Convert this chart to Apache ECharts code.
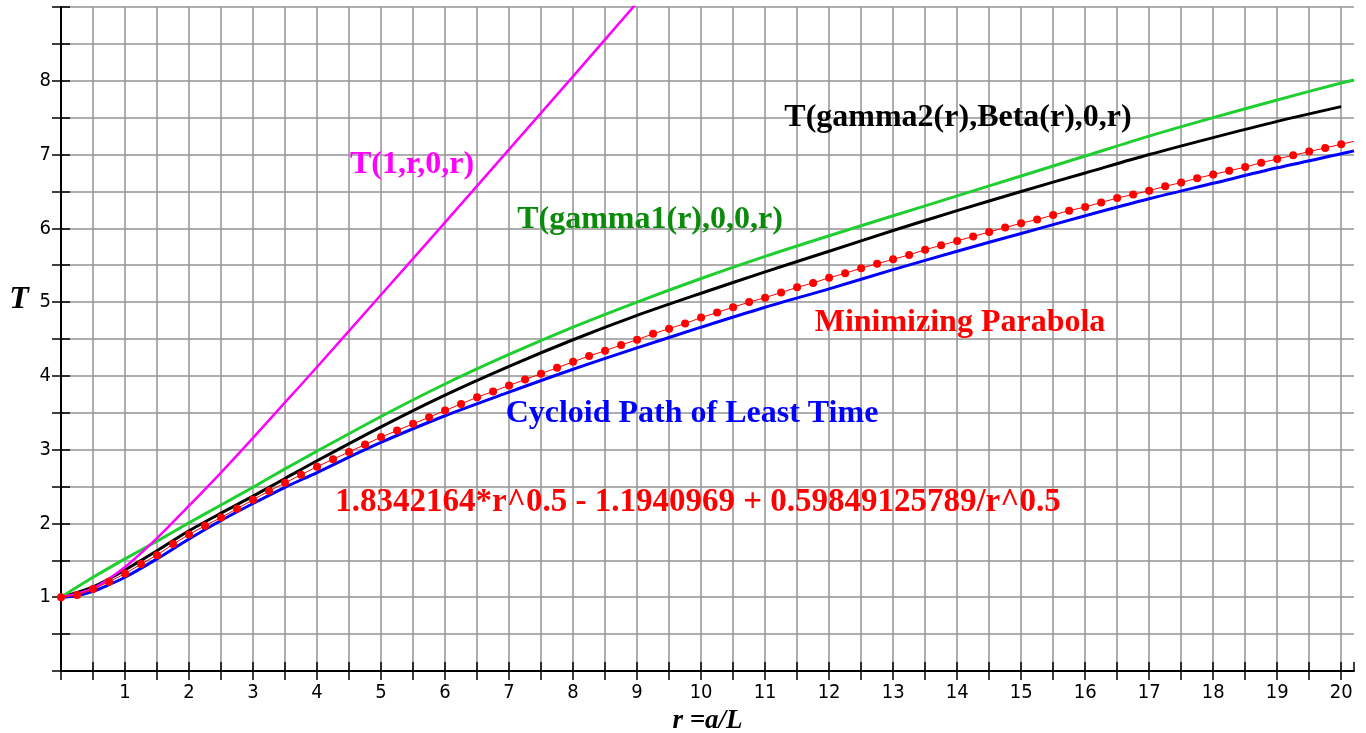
<!DOCTYPE html>
<html>
<head>
<meta charset="utf-8">
<script src="https://cdn.jsdelivr.net/npm/echarts@6/dist/echarts.min.js"></script>
<style>
  html, body { margin: 0; padding: 0; background: #fff; }
  #chart { width: 1366px; height: 733px; }
</style>
</head>
<body>
<div id="chart"></div>
<script>
// tick labels shown on the axes
const xTickLabels = [1, 2, 3, 4, 5, 6, 7, 8, 9, 10, 11, 12, 13, 14, 15, 16, 17, 18, 19, 20]
const yTickLabels = [1, 2, 3, 4, 5, 6, 7, 8]

// T(1,r,0,r)  (magenta)
const straightR = [0, 0.5, 1, 1.5, 2, 2.5, 3, 3.5, 4, 5, 6, 7, 8, 9]
const straightT = [1.00, 1.12, 1.41, 1.80, 2.24, 2.69, 3.16, 3.64, 4.12, 5.10, 6.08, 7.07, 8.06, 9.06]

// T(gamma1(r),0,0,r)  (green)
const gamma1R = [0, 0.5, 1, 1.5, 2, 2.5, 3, 3.5, 4, 5, 6, 7, 8, 9, 10, 11, 12, 13, 14, 15, 16, 17, 18, 19, 20, 20.2]
const gamma1T = [1.00, 1.27, 1.52, 1.76, 2.01, 2.25, 2.49, 2.74, 2.98, 3.45, 3.89, 4.29, 4.66, 5.00, 5.32, 5.62, 5.90, 6.17, 6.44, 6.71, 6.98, 7.25, 7.50, 7.74, 7.97, 8.01]

// T(gamma2(r),Beta(r),0,r)  (black)
const gamma2R = [0, 0.5, 1, 1.5, 2, 2.5, 3, 3.5, 4, 5, 6, 7, 8, 9, 10, 11, 12, 13, 14, 15, 16, 17, 18, 19, 20]
const gamma2T = [1.00, 1.14, 1.37, 1.63, 1.90, 2.14, 2.37, 2.61, 2.85, 3.31, 3.74, 4.13, 4.49, 4.82, 5.12, 5.41, 5.69, 5.97, 6.24, 6.50, 6.75, 7.00, 7.23, 7.45, 7.65]

// Cycloid path of least time  (blue)
const cycloidR = [0, 0.25, 0.5, 0.75, 1, 1.5, 2, 2.5, 3, 3.5, 4, 4.5, 5, 6, 7, 8, 9, 10, 11, 12, 13, 14, 15, 16, 17, 18, 19, 20, 20.2]
const cycloidT = [1.00, 1.02, 1.08, 1.17, 1.27, 1.52, 1.79, 2.04, 2.27, 2.49, 2.69, 2.90, 3.10, 3.46, 3.78, 4.09, 4.38, 4.66, 4.93, 5.18, 5.44, 5.69, 5.93, 6.17, 6.40, 6.61, 6.82, 7.01, 7.05]

// Minimizing parabola, dots every 0.25 in r  (red)
const parabolaStep = 0.25
const parabolaT = [
  1.00, 1.03, 1.11, 1.21, 1.32, 1.45, 1.57, 1.72, 1.85, 1.97,
  2.08, 2.20, 2.32, 2.44, 2.55, 2.66, 2.77, 2.87, 2.97, 3.07,
  3.17, 3.26, 3.35, 3.44, 3.53, 3.62, 3.71, 3.79, 3.87, 3.95,
  4.03, 4.11, 4.19, 4.27, 4.34, 4.42, 4.49, 4.57, 4.64, 4.71,
  4.79, 4.86, 4.93, 5.00, 5.06, 5.13, 5.20, 5.26, 5.33, 5.39,
  5.46, 5.52, 5.58, 5.64, 5.71, 5.77, 5.83, 5.89, 5.95, 6.01,
  6.07, 6.12, 6.18, 6.24, 6.29, 6.35, 6.41, 6.46, 6.51, 6.57,
  6.62, 6.68, 6.73, 6.78, 6.83, 6.89, 6.94, 6.99, 7.04, 7.09,
  7.14
]
const parabolaTail = [20.2, 7.18]

const pairs = (xs, ys) => xs.map((x, i) => [x, ys[i]])

const parabolaData = parabolaT.map((t, i) => [i * parabolaStep, t])
parabolaData.push({ value: parabolaTail, symbol: 'none' })

const chart = echarts.init(document.getElementById('chart'))

const gridColor = '#939393'
const serif = '"Liberation Serif", "Times New Roman", serif'
const narrow = '"Liberation Sans Narrow", "DejaVu Sans Condensed", "Liberation Sans", sans-serif'

// bold serif text placed on the plot
const note = (text, x, y, color, size, italic) => ({
  type: 'text',
  x: x,
  y: y,
  z: 100,
  style: {
    text: text,
    fill: color,
    font: (italic ? 'italic ' : '') + 'bold ' + size + 'px ' + serif,
    align: 'center',
    verticalAlign: 'middle'
  }
})

chart.setOption({
  animation: false,
  backgroundColor: '#fff',
  grid: { left: 61, right: 12, top: 7, bottom: 62, containLabel: false, outerBoundsMode: 'none' },
  xAxis: [
    {
      type: 'value',
      min: 0,
      max: 20.2,
      interval: 0.5,
      position: 'bottom',
      name: 'r =a/L',
      nameLocation: 'middle',
      nameGap: 31,
      nameTextStyle: { fontFamily: serif, fontWeight: 'bold', fontStyle: 'italic', fontSize: 27, color: '#000' },
      axisLine: { show: true, onZero: false, lineStyle: { color: '#000', width: 2 } },
      axisTick: { show: true, length: 9, lineStyle: { color: '#000', width: 1.5 } },
      axisLabel: {
        margin: 12,
        fontFamily: narrow,
        fontSize: 20,
        color: '#000',
        showMaxLabel: false,
        formatter: v => (xTickLabels.includes(v) ? String(v) : '')
      },
      splitLine: { show: true, showMaxLine: false, lineStyle: { color: gridColor, width: 1.5 } }
    },
    {
      type: 'value',
      min: 0,
      max: 20.2,
      interval: 0.5,
      position: 'bottom',
      axisLine: { show: false },
      axisTick: { show: true, inside: true, length: 9, lineStyle: { color: '#000', width: 1.5 } },
      axisLabel: { show: false },
      splitLine: { show: false }
    }
  ],
  yAxis: [
    {
      type: 'value',
      min: 0,
      max: 9,
      interval: 0.5,
      position: 'left',
      axisLine: { show: true, onZero: false, lineStyle: { color: '#000', width: 2 } },
      axisTick: { show: true, length: 9, lineStyle: { color: '#000', width: 1.5 } },
      axisLabel: {
        margin: 10,
        fontFamily: narrow,
        fontSize: 20,
        color: '#000',
        formatter: v => (yTickLabels.includes(v) ? String(v) : '')
      },
      splitLine: { show: true, lineStyle: { color: gridColor, width: 1.5 } }
    },
    {
      type: 'value',
      min: 0,
      max: 9,
      interval: 0.5,
      position: 'left',
      axisLine: { show: false },
      axisTick: { show: true, inside: true, length: 9, lineStyle: { color: '#000', width: 1.5 } },
      axisLabel: { show: false },
      splitLine: { show: false }
    }
  ],
  series: [
    {
      name: 'Cycloid Path of Least Time',
      type: 'line',
      data: pairs(cycloidR, cycloidT),
      smooth: 0.3,
      showSymbol: false,
      lineStyle: { color: '#0000ff', width: 3 }
    },
    {
      name: 'T(gamma2(r),Beta(r),0,r)',
      type: 'line',
      data: pairs(gamma2R, gamma2T),
      smooth: 0.3,
      showSymbol: false,
      lineStyle: { color: '#000000', width: 3 }
    },
    {
      name: 'T(gamma1(r),0,0,r)',
      type: 'line',
      data: pairs(gamma1R, gamma1T),
      smooth: 0.3,
      showSymbol: false,
      lineStyle: { color: '#1fcf30', width: 3 }
    },
    {
      name: 'T(1,r,0,r)',
      type: 'line',
      data: pairs(straightR, straightT),
      smooth: 0.3,
      showSymbol: false,
      lineStyle: { color: '#ff00ff', width: 2.5 }
    },
    {
      name: 'Minimizing Parabola',
      type: 'line',
      data: parabolaData,
      symbol: 'circle',
      symbolSize: 8,
      showAllSymbol: true,
      itemStyle: { color: '#ff0000' },
      lineStyle: { color: '#ff0000', width: 1 }
    }
  ],
  graphic: [
    note('T', 19, 300, '#000000', 32, true),
    note('T(1,r,0,r)', 412, 165, '#ff00ff', 32),
    note('T(gamma1(r),0,0,r)', 650, 220, '#0a8c0a', 32),
    note('T(gamma2(r),Beta(r),0,r)', 958, 118, '#000000', 32),
    note('Minimizing Parabola', 960, 323, '#ff0000', 32),
    note('Cycloid Path of Least Time', 692, 414, '#0000ff', 32),
    note('1.8342164*r^0.5 - 1.1940969 + 0.59849125789/r^0.5', 698, 502, '#ff0000', 33)
  ]
})
</script>
</body>
</html>
